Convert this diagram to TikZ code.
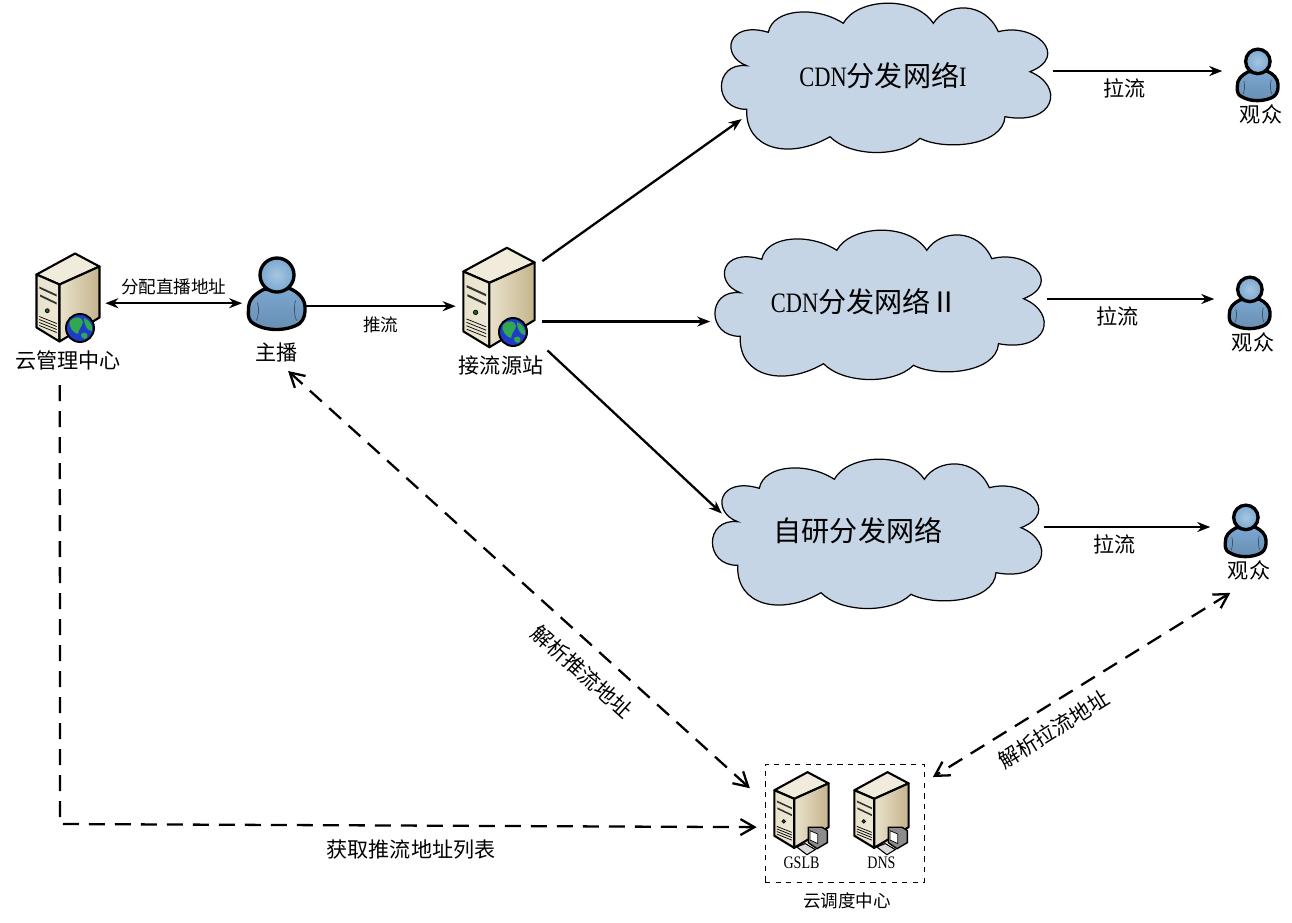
\documentclass[tikz,border=0pt]{standalone}
\usepackage{fontspec}
\usepackage{tikz}
\usetikzlibrary{arrows.meta,positioning,calc,shapes.geometric}
\newfontfamily\cjk{Noto Sans CJK SC}
\newfontfamily\ltn[FakeStretch=0.8]{Liberation Serif}
\definecolor{cloudfill}{HTML}{C6D5E5}
\definecolor{srvtop}{HTML}{F0EBDB}
\definecolor{srvfront}{HTML}{E9E2CC}
\definecolor{srvside}{HTML}{C4B48C}
\definecolor{manblue}{HTML}{7BA7D1}
\definecolor{manpale}{HTML}{A6C6E0}
\definecolor{globeblue}{HTML}{1F3CC8}
\definecolor{globegreen}{HTML}{2FA850}
\tikzset{
  pics/server/.style={code={
    \draw[line width=1.2pt,line join=round,fill=srvtop] (7,-44) -- (31.5,-31) -- (-8.5,-13) -- (-31.5,-23) -- cycle;
    \draw[line width=1.2pt,line join=round,left color=srvfront,right color=srvfront!80!white] (-31.5,-23) -- (-8.5,-13) -- (-8.5,44) -- (-31.5,30) -- cycle;
    \draw[line width=1.2pt,line join=round,left color=srvfront,right color=srvside] (-8.5,-13) -- (31.5,-31) -- (31.5,20) -- (-8.5,44) -- cycle;
    \fill[black!80] (-28.7,-11) -- (-11.3,-3) -- (-11.3,-1) -- (-28.7,-9) -- cycle;
    \fill[black!80] (-28,-3) -- (-11.3,5) -- (-11.3,7) -- (-28,-1) -- cycle;
    \draw[fill=globegreen!60!black,line width=.4pt] (-20.7,13.2) circle (2);
    \foreach \i in {0,3,6,9}
      \draw[line width=.4pt] (-28.7,19+\i) -- (-11.3,26+\i);
  }},
  pics/globe/.style={code={
    \draw[line width=1.1pt,fill=globeblue] (0,0) circle (14);
    \fill[globegreen] (-10,-7) .. controls (-4,-13) and (2,-11) .. (3,-6) .. controls (2,-1) and (-1,0) .. (-2,6) .. controls (-6,5) and (-12,0) .. cycle;
    \fill[globegreen] (4,-10) .. controls (10,-8) and (13,-2) .. (12,3) .. controls (8,3) and (4,-2) .. cycle;
    \fill[globegreen] (1,6) .. controls (5,3) and (9,5) .. (7,10) .. controls (4,12) and (1,10) .. cycle;
  }},
  pics/desktop/.style={code={
    \draw[line width=.6pt,fill=black!15] (-5.5,43) -- (4.3,39) -- (16,46) -- (6.3,52) -- cycle;
    \draw[line width=.8pt,fill=black!45] (8,20) -- (24,20) -- (30,24) -- (30,38) -- (18,45) -- (8,38) -- cycle;
    \draw[line width=.4pt,fill=white] (10,24) -- (19,28) -- (19,39) -- (10,35) -- cycle;
  }},
  pics/person/.style={code={
    \draw[line width=1.9pt,line join=round,top color=manblue,bottom color=manblue!85!black] (-13,-3) .. controls (-24,3) and (-28,8) .. (-28,17) .. controls (-29,24) and (-27,29) .. (-23,31) .. controls (-15,36) and (-6,37) .. (0,37) .. controls (8,37) and (17,35) .. (23,31) .. controls (28,27) and (29,20) .. (28.5,14) .. controls (28,6) and (22,0) .. (13.5,-4) -- cycle;
    \draw[line width=.4pt,manblue!50!black] (-19,10) .. controls (-17,16) and (-18,24) .. (-20,28);
    \draw[line width=.4pt,manblue!50!black] (19,8) .. controls (17,16) and (18,24) .. (20,28);
    \draw[line width=1.9pt,inner color=manpale,outer color=manblue] (0.5,-17.5) circle (17);
  }},
  pics/netcloud/.style={code={
    \draw[line width=.7pt,fill=cloudfill] (-116.7,-45.7)
      .. controls (-112,-70) and (-68,-72) .. (-41.7,-54.7)
      .. controls (-28,-80) and (30,-83) .. (48.3,-54.7)
      .. controls (62,-76) and (100,-77) .. (113.3,-46.3)
      .. controls (150,-56) and (185,-22) .. (145,-6.3)
      .. controls (180,8) and (170,48) .. (120,38.7)
      .. controls (118,68) and (60,73) .. (35,60.3)
      .. controls (15,80) and (-35,79) .. (-55,58.7)
      .. controls (-95,82) and (-140,72) .. (-138.3,31.3)
      .. controls (-172,32) and (-172,-16) .. (-138.3,-12.3)
      .. controls (-165,-22) and (-158,-58) .. (-116.7,-45.7) -- cycle;
  }}
}
\begin{document}
\begin{tikzpicture}[
  x=0.02cm,y=-0.02cm,
  inner sep=0pt,
  srvnode/.style={minimum width=#1*1.28cm,minimum height=#1*1.78cm},
  mannode/.style={minimum width=#1*1.16cm,minimum height=#1*1.48cm},
  netnode/.style={ellipse,minimum width=6.72cm,minimum height=3.12cm},
  bigtext/.style={font=\cjk\fontsize{16}{18}\selectfont},
  tagtext/.style={font=\cjk\fontsize{12}{14}\selectfont},
  smalltext/.style={font=\cjk\fontsize{10}{12}\selectfont},
  srvtext/.style={font=\ltn\fontsize{10}{12}\selectfont},
  arr/.style={-{Stealth[length=0.26cm,width=0.2cm]},line width=1.3pt},
  biarr/.style={{Stealth[length=0.26cm,width=0.2cm]}-{Stealth[length=0.26cm,width=0.2cm]},line width=1.3pt},
  dasharr/.style={-{Straight Barb[length=0.28cm,width=0.32cm]},line width=1.3pt,dash pattern=on 0.32cm off 0.2cm},
  bidash/.style={{Straight Barb[length=0.28cm,width=0.32cm]}-{Straight Barb[length=0.28cm,width=0.32cm]},line width=1.3pt,dash pattern=on 0.32cm off 0.2cm}
]
\useasboundingbox (0,0) rectangle (1292,923);
% servers and people on the left
\node[srvnode=1] (mgr) at (68,297.5) {};
\pic at (mgr) {server};
\pic at (80,328) {globe};
\node[tagtext,below=0.17cm of mgr] (mgrlab) {云管理中心};
\node[mannode=1] (host) at (276.5,292.5) {};
\pic at (host) {person};
\node[tagtext,below=0.26cm of host] (hostlab) {主播};
\node[minimum width=1.72cm,minimum height=2cm] (src) at (499,297.5) {};
\pic[scale=1.13] at (src) {server};
\pic at (513,332) {globe};
\node[tagtext,below=0.16cm of src,xshift=0.04cm] (srclab) {接流源站};
% the three networks
\node[netnode] (cdna) at (885,78) {};
\pic at (cdna) {netcloud};
\node[bigtext] (cdnatext) at (883,76) {{\ltn CDN}分发网络{\ltn I}};
\node[netnode] (cdnb) at (878.5,305) {};
\pic at (cdnb) {netcloud};
\node[bigtext] (cdnbtext) at (865,302) {{\ltn CDN}分发网络Ⅱ};
\node[netnode] (cdnc) at (876,534) {};
\pic at (cdnc) {netcloud};
\node[bigtext] (cdnctext) at (858,531) {自研分发网络};
% viewers
\node[mannode=0.72] (usra) at (1257.5,74) {};
\pic[scale=0.72] at (usra) {person};
\node[tagtext,below=0.07cm of usra,xshift=0.07cm] (usralab) {观众};
\node[mannode=0.72] (usrb) at (1249.5,302) {};
\pic[scale=0.72] at (usrb) {person};
\node[tagtext,below=0.07cm of usrb,xshift=0.07cm] (usrblab) {观众};
\node[mannode=0.72] (usrc) at (1245.5,530) {};
\pic[scale=0.72] at (usrc) {person};
\node[tagtext,below=0.07cm of usrc,xshift=0.07cm] (usrclab) {观众};
% dispatch centre
\node[draw,dashed,minimum width=3.18cm,minimum height=2.36cm] (sched) at (844.5,823) {};
\node[srvnode=0.86] (gslb) at (801.5,810) {};
\pic[scale=0.86] at (gslb) {server};
\pic[scale=0.86] at (gslb) {desktop};
\node[srvtext] (gslblab) at (801.5,863) {GSLB};
\node[srvnode=0.86] (dns) at (881.5,810) {};
\pic[scale=0.86] at (dns) {server};
\pic[scale=0.86] at (dns) {desktop};
\node[srvtext] (dnslab) at (881.5,863) {DNS};
\node[smalltext,below=0.2cm of sched,xshift=0.05cm] (schedlab) {云调度中心};
% solid links
\draw[biarr,shorten <=0.1cm,shorten >=0.1cm] (mgr.-10) -- (mgr.-10 -| host.west) node[smalltext,midway,above=0.14cm] {分配直播地址};
\draw[arr] (host.-25) -- (host.-25 -| src.west) node[smalltext,midway,below=0.18cm] {推流};
\draw[arr] (src.40) -- (cdna.196);
\draw[arr] (src.-29) -- (src.-29 -| cdnb.west);
\draw[arr,shorten <=0.14cm,shorten >=-0.14cm] (src.-48) -- (cdnc.171);
\draw[arr,shorten >=0.28cm] (cdna.east |- usra.172) -- (usra.172) node[tagtext,pos=0.39,below=0.12cm] {拉流};
\draw[arr,shorten >=0.28cm] (cdnb.east |- usrb.172) -- (usrb.172) node[tagtext,pos=0.39,below=0.12cm] {拉流};
\draw[arr,shorten >=0.28cm] (cdnc.east |- usrc.172) -- (usrc.172) node[tagtext,pos=0.39,below=0.12cm] {拉流};
% dashed links
\coordinate (turn) at (60,824);
\draw[dasharr,shorten <=0.28cm,shorten >=0.16cm] (mgrlab.-129) -- (turn) -- (sched.183);
\node[tagtext] (getlab) at (411,850) {获取推流地址列表};
\draw[bidash,shorten <=0.24cm,shorten >=0.4cm] (hostlab.-75) -- (sched.165) node[tagtext,pos=0.66,sloped,below=0.3cm] {解析推流地址};
\draw[bidash,shorten <=0.46cm,shorten >=0.2cm] (usrclab.-85) -- (sched.27) node[tagtext,pos=0.64,sloped,below=0.24cm] {解析拉流地址};
\end{tikzpicture}
\end{document}
